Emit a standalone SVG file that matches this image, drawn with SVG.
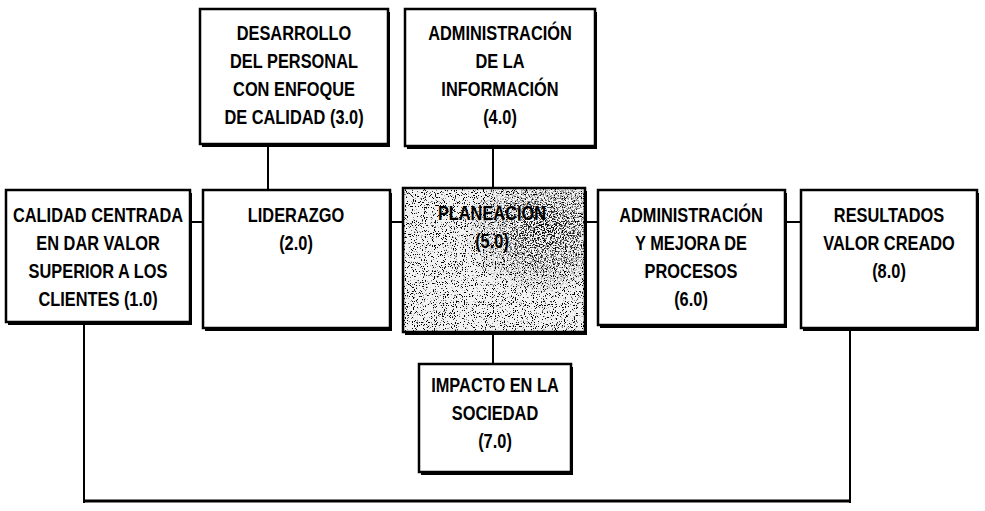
<svg xmlns="http://www.w3.org/2000/svg" width="985" height="511" viewBox="0 0 985 511">
<defs>
<style>
.box{fill:#fff;stroke:#000;stroke-width:2.5}
.t{font-family:"Liberation Sans",Arial,sans-serif;font-weight:bold;font-size:19.5px;fill:#000;text-anchor:middle}
.c{fill:none;stroke:#000;stroke-width:2}
</style>
<filter id="speck" x="0" y="0" width="100%" height="100%">
<feTurbulence type="fractalNoise" baseFrequency="0.9" numOctaves="2" seed="3"/>
<feColorMatrix type="matrix" values="0 0 0 0 0  0 0 0 0 0  0 0 0 0 0  14 0 0 0 -8.4"/>
</filter>
<filter id="speck2" x="0" y="0" width="100%" height="100%">
<feTurbulence type="fractalNoise" baseFrequency="0.7" numOctaves="2" seed="11"/>
<feColorMatrix type="matrix" values="0 0 0 0 0  0 0 0 0 0  0 0 0 0 0  12 0 0 0 -6.2"/>
</filter>
<radialGradient id="rg" cx="0.78" cy="0.3" r="0.45">
<stop offset="0" stop-color="#fff" stop-opacity="1"/>
<stop offset="1" stop-color="#fff" stop-opacity="0"/>
</radialGradient>
<mask id="m5"><rect x="403" y="188" width="182" height="144" fill="url(#rg)"/></mask>
</defs>
<g id="connectors">
<line class="c" x1="190" y1="222" x2="203" y2="222"/>
<line class="c" x1="390" y1="222" x2="403" y2="222"/>
<line class="c" x1="585" y1="222" x2="598" y2="222"/>
<line class="c" x1="785" y1="222" x2="801" y2="222"/>
<line class="c" x1="268" y1="144" x2="268" y2="190"/>
<line class="c" x1="493" y1="146" x2="493" y2="188"/>
<line class="c" x1="493" y1="332" x2="493" y2="364"/>
<line class="c" x1="84" y1="322" x2="84" y2="503"/>
<line class="c" x1="850" y1="328" x2="850" y2="503"/>
<line x1="84" y1="501" x2="850" y2="501" stroke="#000" stroke-width="3"/>
</g>
<g id="n1">
<rect x="8" y="193" width="184" height="132" fill="#000"/>
<rect class="box" x="6" y="190" width="184" height="132"/>
<g class="t" transform="translate(98,0) scale(0.84,1)">
<text y="222">CALIDAD CENTRADA</text>
<text y="250">EN DAR VALOR</text>
<text y="278">SUPERIOR A LOS</text>
<text y="306">CLIENTES (1.0)</text>
</g>
</g>
<g id="n2">
<rect x="205" y="193" width="187" height="138" fill="#000"/>
<rect class="box" x="203" y="190" width="187" height="138"/>
<g class="t" transform="translate(296,0) scale(0.84,1)">
<text y="222">LIDERAZGO</text>
<text y="250">(2.0)</text>
</g>
</g>
<g id="n3">
<rect x="202" y="12" width="188" height="135" fill="#000"/>
<rect class="box" x="200" y="9" width="188" height="135"/>
<g class="t" transform="translate(294,0) scale(0.84,1)">
<text y="40">DESARROLLO</text>
<text y="68">DEL PERSONAL</text>
<text y="96">CON ENFOQUE</text>
<text y="124">DE CALIDAD (3.0)</text>
</g>
</g>
<g id="n4">
<rect x="407" y="12" width="190" height="137" fill="#000"/>
<rect class="box" x="405" y="9" width="190" height="137"/>
<g class="t" transform="translate(500,0) scale(0.84,1)">
<text y="40">ADMINISTRACIÓN</text>
<text y="68">DE LA</text>
<text y="96">INFORMACIÓN</text>
<text y="124">(4.0)</text>
</g>
</g>
<g id="n5">
<rect x="405" y="191" width="182" height="144" fill="#000"/>
<rect x="403" y="188" width="182" height="144" fill="#f2f2f2"/>
<rect x="403" y="188" width="182" height="144" fill="#000" filter="url(#speck)"/>
<g mask="url(#m5)"><rect x="403" y="188" width="182" height="144" fill="#000" filter="url(#speck2)"/></g>
<rect x="403" y="188" width="182" height="144" fill="none" stroke="#000" stroke-width="2.5"/>
<g class="t" transform="translate(492,0) scale(0.84,1)">
<text y="220">PLANEACIÓN</text>
<text y="248">(5.0)</text>
</g>
</g>
<g id="n6">
<rect x="600" y="193" width="187" height="135" fill="#000"/>
<rect class="box" x="598" y="190" width="187" height="135"/>
<g class="t" transform="translate(691,0) scale(0.84,1)">
<text y="222">ADMINISTRACIÓN</text>
<text y="250">Y MEJORA DE</text>
<text y="278">PROCESOS</text>
<text y="306">(6.0)</text>
</g>
</g>
<g id="n7">
<rect x="421" y="367" width="152" height="108" fill="#000"/>
<rect class="box" x="419" y="364" width="152" height="108"/>
<g class="t" transform="translate(495,0) scale(0.84,1)">
<text y="392">IMPACTO EN LA</text>
<text y="420">SOCIEDAD</text>
<text y="448">(7.0)</text>
</g>
</g>
<g id="n8">
<rect x="803" y="193" width="176" height="138" fill="#000"/>
<rect class="box" x="801" y="190" width="176" height="138"/>
<g class="t" transform="translate(889,0) scale(0.84,1)">
<text y="222">RESULTADOS</text>
<text y="250">VALOR CREADO</text>
<text y="278">(8.0)</text>
</g>
</g>
</svg>
